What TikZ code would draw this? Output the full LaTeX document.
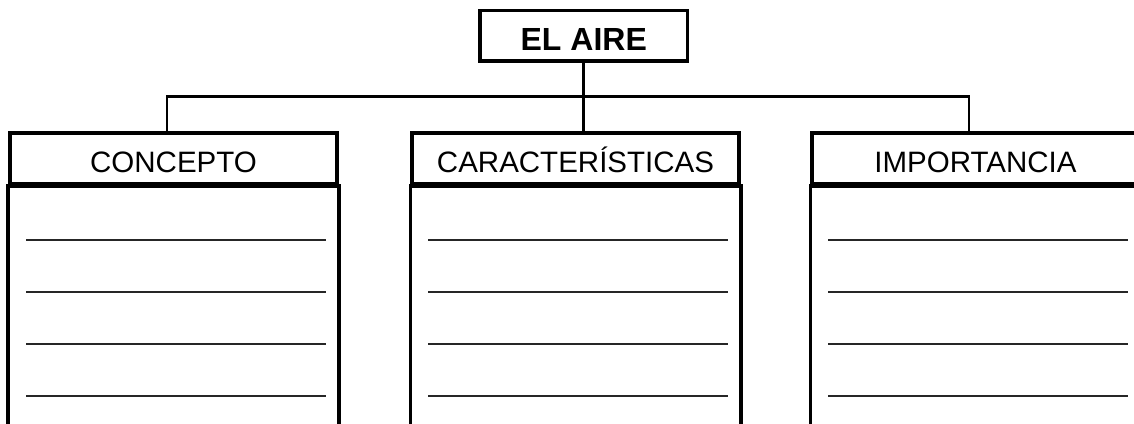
\documentclass[tikz,border=0pt]{standalone}
\usepackage{fontspec}
\setmainfont{Liberation Sans}
\begin{document}
\begin{tikzpicture}[x=1bp,y=-1bp,
  boxline/.style={line width=3.5bp,line cap=rect},
  headbox/.style={draw,line width=3.5bp,rectangle,minimum width=327bp,minimum height=50.5bp,
    inner sep=0pt,text height=28bp,text depth=0pt,font=\fontsize{29.5bp}{32bp}\selectfont},
  titlebox/.style={draw,line width=3.5bp,rectangle,minimum width=207.5bp,minimum height=50.3bp,
    inner sep=0pt,text height=29bp,text depth=0pt,font=\fontsize{32bp}{34bp}\selectfont\bfseries},
  sepline/.style={line width=5.5bp},
  conn/.style={line width=2.6bp},
  writeline/.style={line width=1.6bp,black!85}]
\path[use as bounding box] (0,0) rectangle (1134,423);
\clip (0,0) rectangle (1134,423);
\node[titlebox] (top) at (583.75,35.85) {EL AIRE};
\node[headbox] (h1) at (173.5,158.25) {CONCEPTO};
\node[headbox] (h2) at (575.5,158.25) {CARACTERÍSTICAS};
\node[headbox] (h3) at (975.5,158.25) {IMPORTANCIA};
% connectors
\coordinate (jl) at ([xshift=-6.5bp]h1.north);
\coordinate (jr) at ([xshift=-6.5bp]h3.north);
\draw[conn] (top.south) -- (top.south |- h2.north);
\draw[conn] (jl) -- ++(0,-35) -| (jr);
% separators and bodies
\foreach \h in {h1,h2,h3}{
  \draw[sepline] (\h.south west) -- (\h.south east);
  \draw[boxline] (\h.south west) -- ++(0,300);
  \draw[boxline] (\h.south east) -- ++(0,300);
  \foreach \y in {54.5,106.5,158.5,211}{
    \draw[writeline] ([xshift=18bp,yshift=-\y bp]\h.south west) -- ([xshift=-13bp,yshift=-\y bp]\h.south east);
  }
}
\end{tikzpicture}
\end{document}
